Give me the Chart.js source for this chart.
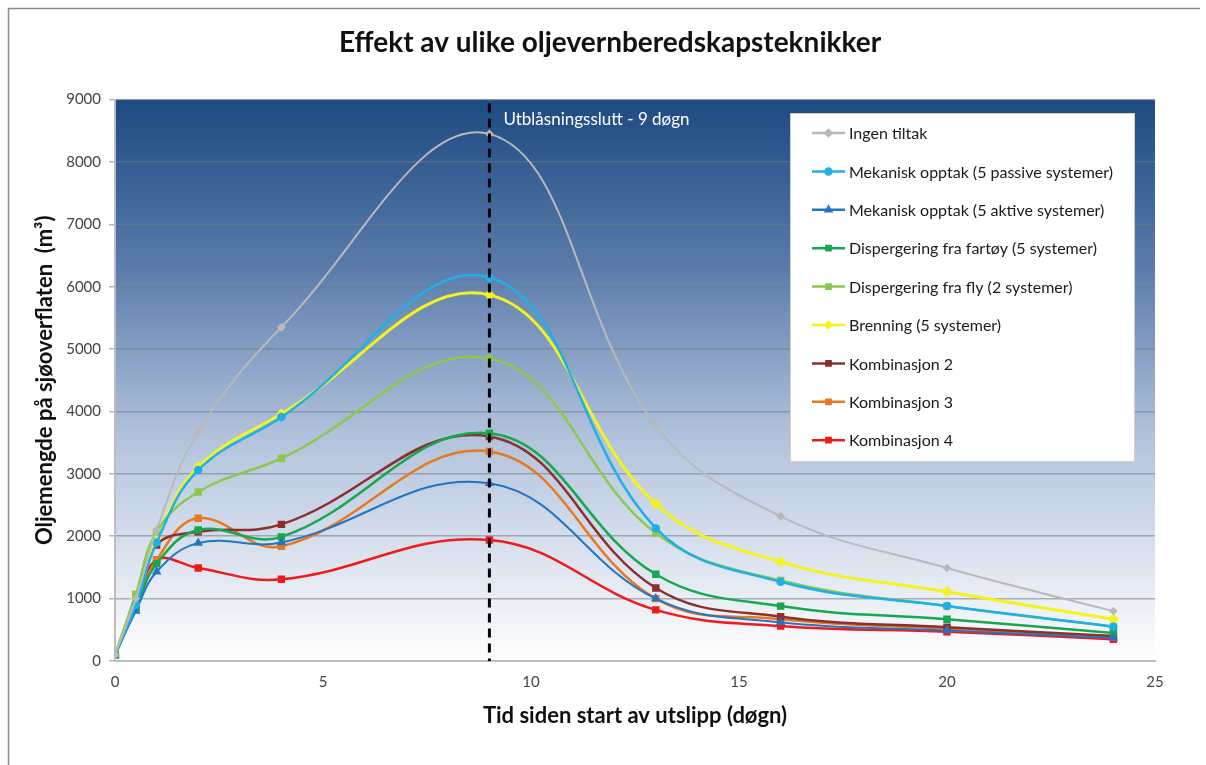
<!DOCTYPE html>
<html>
<head>
<meta charset="utf-8">
<script src="https://cdn.jsdelivr.net/npm/chart.js@4"></script>
<style>
  body { margin: 0; background: #fff; }
  #wrap { position: relative; width: 1206px; height: 765px; }
</style>
</head>
<body>
<div id="wrap"><canvas id="chart" width="1206" height="765"></canvas></div>
<script>
// days since start
const days = [0, 0.5, 1, 2, 4, 9, 13, 16, 20, 24];

const ingenTiltak   = [100, 1000, 2100, 3670, 5350, 8450, 3770, 2320, 1490, 800];
const mekPassive    = [100,  900, 1900, 3060, 3910, 6150, 2130, 1270,  880, 550];
const mekAktive     = [100,  800, 1430, 1890, 1900, 2850, 1000,  620,  490, 370];
const dispFartoy    = [100,  850, 1560, 2100, 1990, 3650, 1390,  880,  670, 450];
const dispFly       = [100, 1070, 2070, 2710, 3250, 4850, 2050, 1290,  880, 550];
const brenning      = [100, 1000, 1970, 3110, 3960, 5870, 2520, 1590, 1110, 670];
const kombinasjon2  = [100,  900, 1860, 2070, 2190, 3600, 1170,  710,  540, 400];
const kombinasjon3  = [100,  850, 1620, 2290, 1840, 3360, 1000,  670,  520, 380];
const kombinasjon4  = [100,  860, 1620, 1490, 1310, 1940,  820,  560,  470, 350];

const seriesNames = [
  'Ingen tiltak',
  'Mekanisk opptak (5 passive systemer)',
  'Mekanisk opptak (5 aktive systemer)',
  'Dispergering fra fartøy (5 systemer)',
  'Dispergering fra fly (2 systemer)',
  'Brenning (5 systemer)',
  'Kombinasjon 2',
  'Kombinasjon 3',
  'Kombinasjon 4'
];
const seriesValues = [ingenTiltak, mekPassive, mekAktive, dispFartoy, dispFly, brenning, kombinasjon2, kombinasjon3, kombinasjon4];
const seriesColors = ['#b9b9b9', '#1eb0e8', '#2474c4', '#17a74f', '#8cc84b', '#f5f21c', '#8b2f2f', '#e8781e', '#f01a1a'];
const seriesMarkers = ['rectRot', 'circle', 'triangle', 'rect', 'rect', 'rectRot', 'rect', 'rect', 'rect'];
const seriesWidths = [2, 2.5, 2, 2.5, 2.5, 3, 2.5, 2.5, 2.5];

const yTicks = [0, 1000, 2000, 3000, 4000, 5000, 6000, 7000, 8000, 9000];
const xTicks = [0, 5, 10, 15, 20, 25];

const markerDay = 9;
const markerLabel = 'Utblåsningsslutt - 9 døgn';

const FONT = 'Lato, "Open Sans", sans-serif';

const datasets = seriesNames.map((name, i) => ({
  label: name,
  data: days.map((d, j) => ({ x: d, y: seriesValues[i][j] })),
  borderColor: seriesColors[i],
  backgroundColor: seriesColors[i],
  borderWidth: seriesWidths[i],
  pointStyle: seriesMarkers[i],
  pointRadius: i === 0 ? 3 : (seriesMarkers[i] === 'circle' ? 3 : 3.5),
  tension: 0.4
}));

// gradient behind the plot + outer frame
const backdrop = {
  id: 'backdrop',
  beforeDraw(chart) {
    const { ctx, chartArea: a } = chart;
    ctx.save();
    const g = ctx.createLinearGradient(0, a.top, 0, a.bottom);
    g.addColorStop(0, '#1d4a82');
    g.addColorStop(0.3, '#5a7cab');
    g.addColorStop(0.6, '#b2c2dc');
    g.addColorStop(1, '#ffffff');
    ctx.fillStyle = g;
    ctx.fillRect(a.left, a.top, a.right - a.left, a.bottom - a.top);
    ctx.strokeStyle = '#8c8c8c';
    ctx.lineWidth = 1.5;
    ctx.beginPath();
    ctx.moveTo(8.5, 765);
    ctx.lineTo(8.5, 8.5);
    ctx.lineTo(1200, 8.5);
    ctx.stroke();
    ctx.restore();
  }
};

// dashed line at end of blowout + label
const blowoutLine = {
  id: 'blowoutLine',
  afterDatasetsDraw(chart) {
    const { ctx, chartArea: a, scales } = chart;
    const x = scales.x.getPixelForValue(markerDay);
    ctx.save();
    ctx.strokeStyle = '#000';
    ctx.lineWidth = 3;
    ctx.setLineDash([9, 6]);
    ctx.beginPath();
    ctx.moveTo(x, a.top + 4);
    ctx.lineTo(x, a.bottom);
    ctx.stroke();
    ctx.setLineDash([]);
    ctx.fillStyle = '#fff';
    ctx.font = '17px ' + FONT;
    ctx.textBaseline = 'middle';
    ctx.fillText(markerLabel, x + 14, a.top + 20);
    ctx.restore();
  }
};

// legend box inside the plot
const boxLegend = {
  id: 'boxLegend',
  afterDraw(chart) {
    const { ctx } = chart;
    const bx = 790, by = 113, bw = 344, bh = 348;
    ctx.save();
    ctx.fillStyle = '#fff';
    ctx.fillRect(bx, by, bw, bh);
    ctx.strokeStyle = '#d0d0d0';
    ctx.lineWidth = 1;
    ctx.strokeRect(bx + 0.5, by + 0.5, bw, bh);
    ctx.font = '16px ' + FONT;
    ctx.textBaseline = 'middle';
    chart.data.datasets.forEach((ds, i) => {
      const y = by + 20 + i * 38.4;
      ctx.strokeStyle = ds.borderColor;
      ctx.lineWidth = 2.5;
      ctx.beginPath();
      ctx.moveTo(812, y);
      ctx.lineTo(845, y);
      ctx.stroke();
      ctx.fillStyle = ds.borderColor;
      Chart.helpers.drawPoint(ctx, { pointStyle: ds.pointStyle, radius: 3, borderWidth: 1 }, 828.5, y);
      ctx.fillStyle = '#1a1a1a';
      ctx.fillText(ds.label, 849, y + 1);
    });
    ctx.restore();
  }
};

new Chart(document.getElementById('chart'), {
  type: 'line',
  data: { datasets },
  plugins: [backdrop, blowoutLine, boxLegend],
  options: {
    responsive: false,
    animation: false,
    layout: { padding: { left: 20, right: 6, top: 20, bottom: 30 } },
    plugins: {
      legend: { display: false },
      tooltip: { enabled: false },
      title: {
        display: true,
        text: 'Effekt av ulike oljevernberedskapsteknikker',
        color: '#111',
        font: { family: FONT, size: 28, weight: 'bold' },
        padding: { top: 6, bottom: 40 }
      }
    },
    scales: {
      x: {
        type: 'linear',
        min: 0,
        max: 25,
        afterBuildTicks(scale) { scale.ticks = xTicks.map(v => ({ value: v })); },
        afterFit(scale) { scale.height = 74; },
        grid: { display: false, drawTicks: true },
        border: { color: '#bdbdbd', width: 2 },
        ticks: { color: '#444', font: { family: FONT, size: 15 }, padding: 4 },
        title: {
          display: true,
          text: 'Tid siden start av utslipp (døgn)',
          color: '#111',
          font: { family: FONT, size: 22, weight: 'bold' },
          padding: { bottom: 6 }
        }
      },
      y: {
        min: 0,
        max: 9000,
        afterBuildTicks(scale) { scale.ticks = yTicks.map(v => ({ value: v })); },
        afterFit(scale) { scale.width = 95; },
        grid: {
          color: 'rgba(110,120,140,0.55)',
          lineWidth: 1.5,
          tickLength: 6,
          drawOnChartArea: true
        },
        border: { color: '#bdbdbd', width: 2 },
        ticks: {
          color: '#444',
          font: { family: FONT, size: 15 },
          padding: 8,
          callback: v => String(v)
        },
        title: {
          display: true,
          text: 'Oljemengde på sjøoverflaten  (m³)',
          color: '#111',
          font: { family: FONT, size: 22, weight: 'bold' },
          padding: { top: 12 }
        }
      },
      // empty right-hand spacer so the title centres on the whole frame
      yRight: {
        position: 'right',
        min: 0,
        max: 9000,
        afterFit(scale) { scale.width = 45; },
        grid: { display: false },
        border: { display: false },
        ticks: { display: false }
      }
    }
  }
});
</script>
</body>
</html>
